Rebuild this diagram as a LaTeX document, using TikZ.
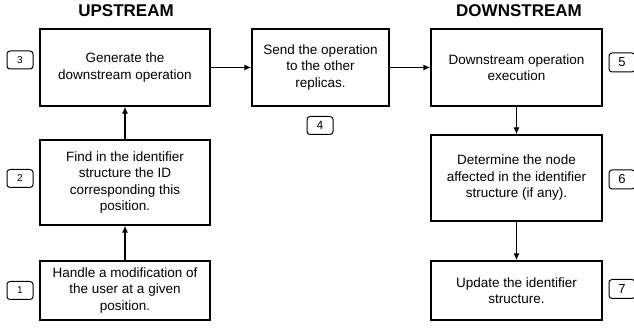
\documentclass[tikz,border=0pt]{standalone}
\usepackage{fontspec}
\setmainfont{Liberation Sans}
\usetikzlibrary{arrows.meta}
\begin{document}
\begin{tikzpicture}[x=1pt,y=-1pt,
  stepbox/.style={draw,line width=1.3pt,inner sep=0pt,align=center,font=\fontsize{13.5}{16.5}\selectfont},
  badge/.style={draw,line width=1pt,rounded corners=3pt,minimum width=26pt,minimum height=18pt,inner sep=0pt},
  flow/.style={line width=1.2pt,-{Latex[length=7pt,width=6pt]}},
  title/.style={font=\fontsize{17}{20}\selectfont\bfseries}]
\clip (0,0) rectangle (634,328);
\useasboundingbox (0,0) rectangle (634,328);
\node[title] (up) at (126,11) {UPSTREAM};
\node[title] (down) at (519,11) {DOWNSTREAM};
\node[stepbox,minimum width=170pt,minimum height=77pt] (gen) at (125,67.5) {Generate the\\downstream operation};
\node[stepbox,minimum width=137pt,minimum height=77pt] (send) at (320.5,67.5) {Send the operation\\to the other\\replicas.};
\node[stepbox,minimum width=171pt,minimum height=77pt] (exec) at (516.5,67.5) {Downstream operation\\execution};
\node[stepbox,minimum width=170pt,minimum height=85pt] (find) at (125,182.5) {Find in the identifier\\structure the ID\\corresponding this\\position.};
\node[stepbox,minimum width=170pt,minimum height=59pt] (handle) at (125,290.5) {Handle a modification of\\the user at a given\\position.};
\node[stepbox,minimum width=171pt,minimum height=86pt] (det) at (516.5,178) {Determine the node\\affected in the identifier\\structure (if any).};
\node[stepbox,minimum width=171pt,minimum height=59pt] (upd) at (516.5,290.5) {Update the identifier\\structure.};
\node[badge,font=\fontsize{10}{12}\selectfont] (b3) at (20,60) {3};
\node[badge,font=\fontsize{10}{12}\selectfont] (b2) at (20,178.5) {2};
\node[badge,font=\fontsize{10}{12}\selectfont] (b1) at (20,290.5) {1};
\node[badge,font=\fontsize{12}{14}\selectfont] (b4) at (320,125.5) {4};
\node[badge,font=\fontsize{13}{15}\selectfont,minimum height=19pt] (b5) at (622,62.5) {5};
\node[badge,font=\fontsize{13}{15}\selectfont,minimum height=19pt] (b6) at (622,179.5) {6};
\node[badge,font=\fontsize{13}{15}\selectfont,minimum height=19pt] (b7) at (622,289) {7};
\draw[flow] (handle) -- (find);
\draw[flow] (find) -- (gen);
\draw[flow] (gen) -- (send);
\draw[flow] (send) -- (exec);
\draw[flow] (exec) -- (det);
\draw[flow] (det) -- (upd);
\end{tikzpicture}
\end{document}
